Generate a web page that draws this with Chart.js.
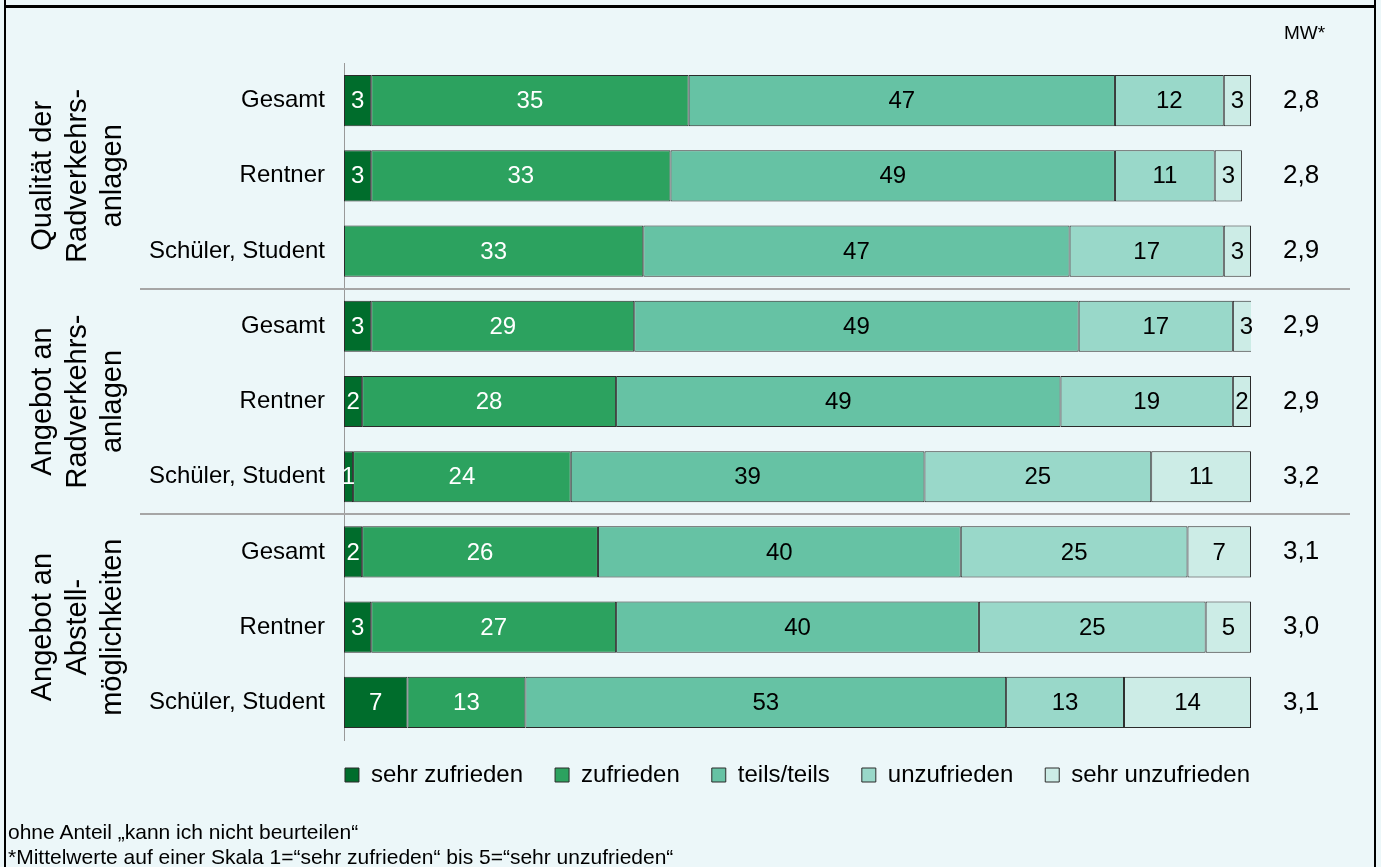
<!DOCTYPE html>
<html lang="de">
<head>
<meta charset="utf-8">
<title>Zufriedenheit Radverkehrsanlagen</title>
<script src="https://cdn.jsdelivr.net/npm/chart.js@4.4.1/dist/chart.umd.min.js"></script>
<style>
  html, body { margin: 0; padding: 0; background: #ecf7f9; overflow: hidden; }
  body { width: 1381px; height: 867px; position: relative; font-family: "Liberation Sans", Arial, sans-serif; }
  #wrap { position: absolute; left: 0; top: 0; width: 1381px; height: 867px; }
  .frame-l { position: absolute; left: 4px; top: 0; width: 2px; height: 867px; background: #000; }
  .frame-r { position: absolute; left: 1374px; top: 0; width: 2px; height: 867px; background: #000; }
  .frame-t { position: absolute; left: 4px; top: 5px; width: 1372px; height: 3px; background: #000; }
  .note { position: absolute; left: 8px; font-size: 21px; color: #000; white-space: nowrap; line-height: 24px; }
</style>
</head>
<body>
<div id="wrap"><canvas id="chart"></canvas></div>
<div class="frame-l"></div>
<div class="frame-r"></div>
<div class="frame-t"></div>
<div class="note" style="top:820px;">ohne Anteil „kann ich nicht beurteilen“</div>
<div class="note" style="top:845px;">*Mittelwerte auf einer Skala 1=“sehr zufrieden“ bis 5=“sehr unzufrieden“</div>
<script>
/* ─── Data ───────────────────────────────────────────────── */
const groupLabels = [
  ['Qualität der', 'Radverkehrs-', 'anlagen'],
  ['Angebot an', 'Radverkehrs-', 'anlagen'],
  ['Angebot an', 'Abstell-', 'möglichkeiten']
];
const rowLabels = ['Gesamt', 'Rentner', 'Schüler, Student',
                   'Gesamt', 'Rentner', 'Schüler, Student',
                   'Gesamt', 'Rentner', 'Schüler, Student'];
const meanValues = ['2,8', '2,8', '2,9', '2,9', '2,9', '3,2', '3,1', '3,0', '3,1'];
const seriesNames = ['sehr zufrieden', 'zufrieden', 'teils/teils', 'unzufrieden', 'sehr unzufrieden'];
const sehrZufrieden   = [3, 3, null, 3, 2, 1, 2, 3, 7];
const zufrieden       = [35, 33, 33, 29, 28, 24, 26, 27, 13];
const teilsTeils      = [47, 49, 47, 49, 49, 39, 40, 40, 53];
const unzufrieden     = [12, 11, 17, 17, 19, 25, 25, 25, 13];
const sehrUnzufrieden = [3, 3, 3, 3, 2, 11, 7, 5, 14];
const seriesColors = ['#006d2c', '#2ca25f', '#66c2a4', '#99d8c9', '#ccece6'];
const labelColors  = ['#ffffff', '#ffffff', '#000000', '#000000', '#000000'];

const FONT = '"Liberation Sans", Arial, sans-serif';

/* ─── Plugins ────────────────────────────────────────────── */
const segmentLabels = {
  id: 'segmentLabels',
  afterDatasetsDraw(chart) {
    const ctx = chart.ctx;
    ctx.save();
    ctx.font = `24px ${FONT}`;
    ctx.textAlign = 'center';
    ctx.textBaseline = 'middle';
    chart.data.datasets.forEach((ds, di) => {
      const meta = chart.getDatasetMeta(di);
      meta.data.forEach((bar, i) => {
        const v = ds.data[i];
        if (v == null) return;
        const { x, y, base } = bar.getProps(['x', 'y', 'base'], true);
        ctx.fillStyle = labelColors[di];
        ctx.fillText(String(v), (x + base) / 2, y + 1);
      });
    });
    ctx.restore();
  }
};

const groupDecor = {
  id: 'groupDecor',
  afterLayout(chart) {
    // legend: centre it under the bars and pull it up a little
    const lg = chart.legend;
    const shift = (chart.chartArea.left + chart.chartArea.right) / 2 - (lg.left + lg.right) / 2;
    lg.left += shift; lg.right += shift;
    lg.top -= 9; lg.bottom -= 9;
  },
  afterDraw(chart) {
    const ctx = chart.ctx;
    const y = chart.scales.y;
    ctx.save();
    // separators between the groups
    ctx.strokeStyle = '#a6a6a6';
    ctx.lineWidth = 2;
    [2.5, 5.5].forEach(v => {
      const py = Math.round(y.getPixelForValue(v));
      ctx.beginPath();
      ctx.moveTo(140, py);
      ctx.lineTo(1350, py);
      ctx.stroke();
    });
    // rotated group titles
    ctx.fillStyle = '#000';
    ctx.font = `29px ${FONT}`;
    ctx.textAlign = 'center';
    ctx.textBaseline = 'middle';
    groupLabels.forEach((lines, g) => {
      const cy = y.getPixelForValue(g * 3 + 1);
      ctx.save();
      ctx.translate(78, cy);
      ctx.rotate(-Math.PI / 2);
      lines.forEach((t, i) => ctx.fillText(t, 0, (i - 1) * 35));
      ctx.restore();
    });
    // header of the mean column
    ctx.font = `19px ${FONT}`;
    ctx.textAlign = 'left';
    ctx.fillText('MW*', 1284, 34);
    ctx.restore();
  }
};

/* ─── Chart ──────────────────────────────────────────────── */
const seriesData = [sehrZufrieden, zufrieden, teilsTeils, unzufrieden, sehrUnzufrieden];

new Chart(document.getElementById('chart'), {
  type: 'bar',
  data: {
    labels: rowLabels,
    datasets: seriesNames.map((name, i) => ({
      label: name,
      data: seriesData[i],
      backgroundColor: seriesColors[i],
      borderColor: '#2b2b2b',
      borderWidth: 1,
      borderSkipped: false,
      categoryPercentage: 0.68,
      barPercentage: 1
    }))
  },
  options: {
    indexAxis: 'y',
    responsive: true,
    maintainAspectRatio: false,
    animation: false,
    layout: { padding: { left: 0, right: 30, top: 63, bottom: 61 } },
    scales: {
      x: {
        stacked: true, min: 0, max: 100, display: false
      },
      y: {
        stacked: true,
        grid: { display: false, drawTicks: false },
        border: { display: true, color: '#999999', width: 1 },
        ticks: { color: '#000', font: { family: FONT, size: 24 }, padding: 19 },
        afterFit(scale) { scale.width = 344; }
      },
      y2: {
        type: 'category',
        labels: meanValues,
        position: 'right',
        offset: true,
        grid: { display: false, drawTicks: false },
        border: { display: false },
        ticks: { color: '#000', font: { family: FONT, size: 26 }, padding: 32 },
        afterFit(scale) { scale.width = 100; }
      }
    },
    plugins: {
      legend: {
        position: 'bottom',
        fullSize: true,
        labels: {
          color: '#000',
          font: { family: FONT, size: 24 },
          boxWidth: 14,
          boxHeight: 14,
          padding: 32
        }
      },
      tooltip: { enabled: false }
    }
  },
  plugins: [segmentLabels, groupDecor]
});
</script>
</body>
</html>
